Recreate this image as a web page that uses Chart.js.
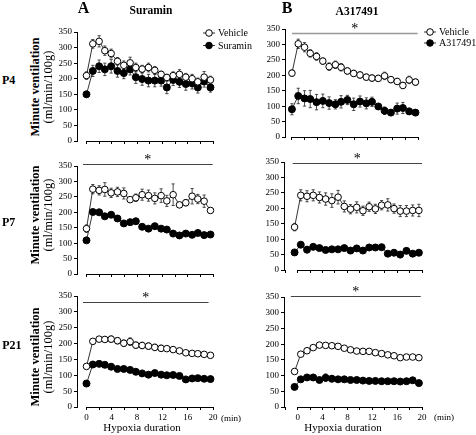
<!DOCTYPE html>
<html>
<head>
<meta charset="utf-8">
<script src="https://cdn.jsdelivr.net/npm/chart.js@4/dist/chart.umd.min.js"></script>
<style>
  body { margin: 0; background: #fff; width: 476px; height: 435px; position: relative; overflow: hidden; font-family: "Liberation Serif", "Times New Roman", serif; }
  canvas { position: absolute; }
  .t { position: absolute; white-space: nowrap; color: #000; line-height: 1; transform: translate(-50%, -50%); z-index: 2; }
  .rot { transform: translate(-50%, -50%) rotate(-90deg); }
</style>
</head>
<body>
<script>
// sample times (min) of each column
const timesA = [0, 1, 2, 2.9, 3.9, 4.9, 5.9, 6.9, 7.8, 8.8, 9.8, 10.8, 11.8, 12.7, 13.7, 14.7, 15.7, 16.7, 17.6, 18.6, 19.6];
const timesB = [-0.5, 0.5, 1.5, 2.5, 3.5, 4.5, 5.5, 6.5, 7.5, 8.5, 9.5, 10.5, 11.5, 12.5, 13.5, 14.5, 15.5, 16.5, 17.5, 18.5, 19.5];

// A - Suramin
const vehicleA_P4  = [210, 312, 320, 290, 281, 256, 243, 251, 236, 231, 236, 227, 214, 204, 210, 214, 205, 200, 190, 205, 196];
const vehicleA_P4_err = [12, 14, 18, 15, 14, 12, 14, 18, 14, 12, 14, 12, 10, 10, 12, 15, 12, 14, 12, 18, 12];
const suraminA_P4  = [150, 225, 240, 230, 240, 225, 218, 230, 205, 199, 194, 194, 194, 172, 196, 190, 183, 185, 172, 191, 172];
const suraminA_P4_err = [8, 18, 20, 20, 22, 20, 18, 18, 20, 20, 20, 20, 18, 20, 18, 18, 20, 18, 18, 18, 15];

const vehicleA_P7  = [147, 275, 271, 274, 263, 266, 261, 241, 247, 257, 254, 245, 254, 237, 257, 224, 231, 252, 243, 236, 206];
const vehicleA_P7_err = [12, 15, 15, 22, 15, 15, 18, 8, 12, 18, 18, 18, 22, 18, 35, 8, 10, 25, 15, 20, 8];
const suraminA_P7  = [109, 201, 200, 187, 192, 180, 164, 168, 171, 153, 147, 155, 147, 144, 131, 125, 131, 127, 133, 126, 128];
const suraminA_P7_err = [5, 6, 6, 8, 8, 6, 5, 5, 5, 6, 5, 5, 5, 5, 5, 5, 5, 5, 5, 5, 5];

const vehicleA_P21 = [128, 207, 214, 213, 214, 209, 201, 206, 195, 194, 192, 188, 185, 184, 181, 177, 171, 169, 168, 166, 163];
const vehicleA_P21_err = [5, 8, 8, 8, 10, 10, 10, 12, 10, 10, 10, 10, 10, 8, 8, 8, 5, 5, 5, 5, 8];
const suraminA_P21 = [74, 134, 136, 133, 127, 120, 120, 117, 111, 106, 102, 107, 102, 100, 101, 98, 87, 90, 91, 89, 88];
const suraminA_P21_err = [5, 8, 8, 8, 8, 8, 8, 8, 8, 6, 6, 6, 6, 6, 6, 6, 6, 6, 6, 6, 6];

// B - A317491
const vehicleB_P4  = [207, 302, 291, 271, 261, 246, 228, 234, 226, 214, 206, 201, 194, 191, 190, 198, 186, 180, 167, 185, 178];
const vehicleB_P4_err = [10, 15, 15, 12, 12, 10, 12, 12, 12, 10, 10, 10, 10, 10, 10, 12, 10, 10, 10, 12, 10];
const a317B_P4     = [90, 133, 125, 123, 113, 117, 110, 106, 114, 120, 106, 115, 109, 114, 99, 85, 79, 92, 94, 83, 79];
const a317B_P4_err = [18, 25, 25, 28, 25, 22, 20, 15, 20, 15, 20, 18, 18, 15, 8, 12, 8, 18, 18, 10, 6];

const vehicleB_P7  = [139, 242, 239, 242, 235, 230, 225, 236, 206, 197, 203, 192, 205, 198, 210, 211, 199, 191, 191, 193, 193];
const vehicleB_P7_err = [12, 18, 18, 18, 18, 20, 22, 22, 18, 15, 18, 15, 15, 15, 15, 20, 15, 18, 18, 18, 20];
const a317B_P7     = [57, 82, 66, 75, 71, 65, 67, 67, 71, 63, 70, 63, 73, 73, 74, 53, 56, 50, 62, 53, 56];
const a317B_P7_err = [5, 8, 10, 5, 5, 5, 5, 5, 5, 5, 5, 5, 5, 5, 5, 5, 5, 10, 5, 5, 5];

const vehicleB_P21 = [113, 168, 179, 189, 197, 196, 195, 193, 187, 182, 178, 177, 177, 173, 170, 166, 163, 157, 159, 159, 157];
const vehicleB_P21_err = [5, 5, 5, 5, 5, 5, 5, 5, 5, 4, 4, 4, 4, 4, 4, 4, 4, 4, 4, 4, 4];
const a317B_P21    = [64, 88, 94, 94, 86, 93, 90, 88, 88, 86, 86, 84, 83, 83, 82, 82, 82, 81, 82, 85, 76];
const a317B_P21_err = [5, 5, 5, 5, 5, 12, 10, 5, 5, 5, 5, 5, 5, 5, 5, 5, 5, 5, 5, 8, 5];

const yTicks = { min: 0, max: 350, step: 50 };
const xTicks = { max: 20, step: 2, labelEvery: 4 };

const FONT = "'Liberation Serif', 'Times New Roman', serif";
Chart.defaults.font.family = FONT;
Chart.defaults.color = '#000';

// panels: area = [left, top, right, bottom] of the plot box in page px
const panels = [
  { area: [77, 32, 213, 141], xMin: -1.5, times: timesA, labels: false, padRight: 47,
    series: [['Vehicle', vehicleA_P4, vehicleA_P4_err, true], ['Suramin', suraminA_P4, suraminA_P4_err, false]],
    legend: { x: 209, y: 33, gap: 12.5 } },
  { area: [77, 166, 213, 274], xMin: -1.5, times: timesA, labels: false,
    series: [['Vehicle', vehicleA_P7, vehicleA_P7_err, true], ['Suramin', suraminA_P7, suraminA_P7_err, false]],
    sig: { from: -0.55, to: 19.95, y: 355, color: '#444' } },
  { area: [77, 296, 213, 407], xMin: -1.5, times: timesA, labels: true,
    series: [['Vehicle', vehicleA_P21, vehicleA_P21_err, true], ['Suramin', suraminA_P21, suraminA_P21_err, false]],
    sig: { from: -0.55, to: 19.3, y: 330, color: '#444' } },
  { area: [285, 29, 418, 137], xMin: -1.1, times: timesA, labels: false, padRight: 58,
    series: [['Vehicle', vehicleB_P4, vehicleB_P4_err, true], ['A317491', a317B_P4, a317B_P4_err, false]],
    sig: { from: 0, to: 19.95, y: 337, color: '#999', width: 1.5 },
    legend: { x: 430, y: 32, gap: 11 } },
  { area: [284, 162, 422, 270], xMin: -2.2, times: timesB, labels: false,
    series: [['Vehicle', vehicleB_P7, vehicleB_P7_err, true], ['A317491', a317B_P7, a317B_P7_err, false]],
    sig: { from: -0.8, to: 20, y: 348, color: '#444' } },
  { area: [284, 297, 422, 407], xMin: -2.2, times: timesB, labels: true,
    series: [['Vehicle', vehicleB_P21, vehicleB_P21_err, true], ['A317491', a317B_P21, a317B_P21_err, false]],
    sig: { from: -1.1, to: 19.8, y: 353, color: '#444' } }
];

const errorBars = {
  id: 'errorBars',
  beforeDatasetsDraw(chart) {
    const ctx = chart.ctx, y = chart.scales.y;
    chart.data.datasets.forEach((ds, i) => {
      const meta = chart.getDatasetMeta(i);
      ctx.save();
      ctx.strokeStyle = '#222';
      ctx.lineWidth = 0.8;
      meta.data.forEach((pt, j) => {
        const v = ds.data[j].y, e = ds.errors[j];
        const top = y.getPixelForValue(v + e), bot = y.getPixelForValue(v - e);
        ctx.beginPath();
        ctx.moveTo(pt.x, top); ctx.lineTo(pt.x, bot);
        ctx.moveTo(pt.x - 1.6, top); ctx.lineTo(pt.x + 1.6, top);
        ctx.moveTo(pt.x - 1.6, bot); ctx.lineTo(pt.x + 1.6, bot);
        ctx.stroke();
      });
      ctx.restore();
    });
  }
};

const decor = {
  id: 'decor',
  afterDraw(chart, args, opts) {
    const { ctx, chartArea, scales: { x, y } } = chart;
    ctx.save();
    // x axis line only over 0..20
    ctx.strokeStyle = '#000';
    ctx.lineWidth = 1;
    ctx.beginPath();
    ctx.moveTo(x.getPixelForValue(0), chartArea.bottom + 0.5);
    ctx.lineTo(x.getPixelForValue(xTicks.max), chartArea.bottom + 0.5);
    ctx.stroke();

    const s = opts.sig;
    if (s) {
      const ly = Math.round(y.getPixelForValue(s.y)) + 0.5;
      const x0 = x.getPixelForValue(s.from), x1 = x.getPixelForValue(s.to);
      ctx.strokeStyle = s.color;
      ctx.lineWidth = s.width || 1;
      ctx.beginPath(); ctx.moveTo(x0, ly); ctx.lineTo(x1, ly); ctx.stroke();
      ctx.fillStyle = '#000';
      ctx.font = '14px ' + FONT;
      ctx.textAlign = 'center';
      ctx.textBaseline = 'alphabetic';
      ctx.fillText('*', (x0 + x1) / 2, ly - 1);
    }

    const lg = opts.legend;
    if (lg) {
      chart.data.datasets.forEach((ds, i) => {
        const cx = lg.x - opts.offX, cy = lg.y + i * lg.gap - opts.offY;
        ctx.strokeStyle = '#000';
        ctx.lineWidth = 0.8;
        ctx.beginPath(); ctx.moveTo(cx - 6, cy); ctx.lineTo(cx + 6, cy); ctx.stroke();
        ctx.beginPath(); ctx.arc(cx, cy, 3.3, 0, Math.PI * 2);
        ctx.fillStyle = ds.pointBackgroundColor;
        ctx.fill(); ctx.lineWidth = 1; ctx.stroke();
        ctx.fillStyle = '#000';
        ctx.font = '10px ' + FONT;
        ctx.textAlign = 'left';
        ctx.textBaseline = 'middle';
        ctx.fillText(ds.label, cx + 9, cy + 0.5);
      });
    }
    ctx.restore();
  }
};

function makePanel(p) {
  const [L, T, R, B] = p.area;
  const YW = 30, PT = 20, XH = 22, PR = p.padRight || 8;
  const left = L - YW, top = T - PT, w = R - L + YW + PR, h = B - T + PT + XH;
  const cv = document.createElement('canvas');
  cv.width = w; cv.height = h;
  cv.style.left = left + 'px'; cv.style.top = top + 'px';
  cv.style.width = w + 'px'; cv.style.height = h + 'px';
  document.body.appendChild(cv);

  const datasets = p.series.map(([name, vals, errs, open]) => ({
    label: name,
    data: p.times.map((t, i) => ({ x: t, y: vals[i] })),
    errors: errs,
    borderColor: '#000',
    borderWidth: 0.8,
    tension: 0,
    pointRadius: open ? 3.3 : 3.5,
    pointBorderWidth: 1,
    pointBorderColor: '#000',
    pointBackgroundColor: open ? '#fff' : '#000',
    clip: false
  }));

  new Chart(cv, {
    type: 'line',
    data: { datasets },
    options: {
      responsive: false,
      animation: false,
      events: [],
      layout: { padding: { top: PT, right: PR, left: 0, bottom: 0 } },
      plugins: {
        legend: { display: false },
        tooltip: { enabled: false },
        decor: { sig: p.sig, legend: p.legend, offX: left, offY: top }
      },
      scales: {
        x: {
          type: 'linear',
          min: p.xMin,
          max: xTicks.max,
          afterFit: s => { s.height = XH; },
          ticks: {
            stepSize: xTicks.step,
            includeBounds: false,
            autoSkip: false,
            maxRotation: 0,
            padding: 2,
            font: { size: 9 },
            callback: v => (p.labels && v % xTicks.labelEvery === 0) ? String(v) : ''
          },
          grid: { drawOnChartArea: false, drawTicks: true, tickLength: 3, color: '#000' },
          border: { display: false }
        },
        y: {
          min: yTicks.min,
          max: yTicks.max,
          afterFit: s => { s.width = YW; },
          ticks: { stepSize: yTicks.step, padding: 2, font: { size: 9 } },
          grid: { drawOnChartArea: false, tickLength: 3, color: '#000' },
          border: { color: '#000' }
        }
      }
    },
    plugins: [errorBars, decor]
  });
}

panels.forEach(makePanel);

function txt(str, cx, cy, css, rot) {
  const d = document.createElement('div');
  d.className = 't' + (rot ? ' rot' : '');
  d.textContent = str;
  d.style.left = cx + 'px';
  d.style.top = cy + 'px';
  d.style.cssText += css;
  document.body.appendChild(d);
}

txt('A', 83.5, 8, 'font-weight:bold;font-size:16px;');
txt('Suramin', 151, 11, 'font-weight:bold;font-size:11.5px;');
txt('B', 287, 8, 'font-weight:bold;font-size:16px;');
txt('A317491', 357, 12, 'font-weight:bold;font-size:11.5px;');

[['P4', 80, 87], ['P7', 222, 215], ['P21', 345, 357]].forEach(([lab, py, ty]) => {
  txt(lab, 2 + lab.length * 3.3, py, 'font-weight:bold;font-size:12px;');
  txt('Minute ventilation', 35, ty, 'font-weight:bold;font-size:12.5px;', true);
  txt('(ml/min/100g)', 48, ty, 'font-size:12.5px;', true);
});

txt('Hypoxia duration', 142, 427, 'font-size:11px;');
txt('Hypoxia duration', 343, 427, 'font-size:11px;');
txt('(min)', 231, 418, 'font-size:9px;');
txt('(min)', 444, 417, 'font-size:9px;');
</script>
</body>
</html>
